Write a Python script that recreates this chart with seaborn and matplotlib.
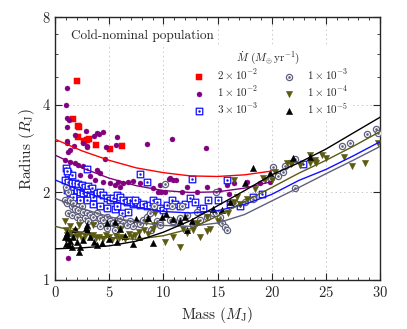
import numpy as np
import pandas as pd
import seaborn as sns
import matplotlib.pyplot as plt
from matplotlib.path import Path
from matplotlib.ticker import MultipleLocator, FixedLocator, NullFormatter

# --- data: mass (M_J), radius (R_J) per accretion rate ---
red_m = [1.7, 2.06, 2.1, 2.15, 2.2, 2.7, 3.0, 3.17, 3.8, 5.1, 6.15]
red_r = [3.57, 4.85, 3.39, 3.11, 3.37, 3.0, 3.02, 3.05, 2.92, 2.82, 2.88]

purple_m = [0.98, 1.14, 1.08, 1.26, 1.1, 1.08, 1.23, 1.38, 1.85, 2.9, 3.6, 4.03, 5.72,
            5.66, 1.1, 1.8, 2.58, 2.98, 4.68, 3.85, 4.46, 8.46, 10.77, 13.9, 4.6, 2.98,
            1.23, 0.92, 1.38, 1.85, 2.15, 2.62, 2.98, 3.85, 4.15, 3.23, 2.31, 3.69, 4.46,
            5.08, 5.54, 5.85, 6.0, 6.31, 6.77, 7.23, 7.85, 8.46, 9.08, 9.69, 10.6, 10.9,
            11.2, 9.54, 10.15, 11.7, 12.15, 13.1, 14.0, 15.1, 15.85, 16.5, 17.7, 18.9,
            19.85, 10.55, 16.1, 9.8]
purple_r = [4.0, 4.57, 3.6, 3.55, 3.35, 3.0, 2.76, 2.8, 3.16, 3.26, 3.14, 3.18, 3.11,
            2.92, 2.97, 2.9, 2.95, 2.89, 2.87, 3.2, 3.24, 2.93, 3.06, 2.84, 2.6, 2.86,
            1.19, 2.59, 2.55, 2.52, 2.49, 2.47, 2.42, 2.39, 2.33, 2.27, 2.30, 2.21, 2.18,
            2.15, 2.12, 2.18, 2.09, 2.16, 2.18, 2.19, 2.15, 2.16, 2.07, 2.12, 2.24, 2.21,
            2.20, 2.01, 2.01, 2.0, 2.09, 2.01, 2.09, 2.04, 2.12, 2.15, 2.18, 2.15,
            2.18, 2.22, 1.98, 2.0]

blue_m = [0.92, 1.23, 1.54, 1.85, 2.15, 2.46, 2.77, 3.08, 3.38, 2.0, 2.31, 2.62, 2.92,
          3.23, 3.54, 3.85, 4.15, 4.46, 4.77, 5.08, 5.38, 5.69, 6.0, 6.31, 6.62, 6.92,
          7.23, 7.54, 7.85, 8.15, 8.46, 8.77, 9.08, 9.38, 9.69, 10.0, 10.3, 10.77, 11.08,
          11.54, 12.0, 12.46, 12.92, 13.38, 13.7, 14.15, 15.08, 16.15, 17.1, 18.3, 19.1,
          22.9, 7.85, 8.46, 12.6, 15.85, 2.98, 0.98, 1.23, 1.54, 1.08, 1.08, 1.38, 1.69,
          2.31, 2.92, 3.54, 4.15, 4.77, 5.54, 6.15, 6.77, 7.38, 5.7]
blue_r = [2.21, 2.18, 2.15, 2.16, 2.14, 2.12, 2.09, 2.10, 2.07, 2.04, 2.01, 1.99, 2.0,
          1.96, 1.93, 1.99, 2.01, 1.96, 1.92, 1.88, 1.91, 1.96, 1.93, 1.88, 1.86, 1.89,
          1.83, 1.86, 1.81, 1.83, 1.79, 1.81, 1.88, 1.86, 1.77, 1.74, 1.81, 1.88, 1.83,
          1.79, 1.82, 1.91, 1.86, 1.74, 1.77, 1.89, 1.88, 1.83, 1.79, 1.93, 1.98,
          2.5, 2.32, 2.18, 2.22, 2.21, 2.40, 2.42, 2.33, 2.30, 2.38, 2.04, 1.99, 1.93,
          1.88, 1.88, 1.83, 1.79, 1.77, 1.75, 1.70, 1.72, 1.88, 1.79]

grey_m = [0.92, 1.08, 1.38, 1.54, 1.69, 1.85, 2.15, 2.46, 2.62, 2.92, 3.23, 3.54, 3.85,
          4.15, 4.46, 4.77, 5.08, 5.38, 5.69, 6.0, 6.31, 6.62, 6.92, 7.23, 7.54, 7.85,
          8.15, 8.46, 8.77, 9.08, 9.38, 9.69, 10.6, 10.9, 11.5, 12.15, 12.77, 13.4, 14.0,
          14.6, 15.2, 1.23, 1.54, 2.0, 2.31, 2.77, 3.08, 3.69, 4.15, 4.77, 5.54, 6.0,
          1.23, 0.98, 16.6, 17.5, 18.3, 19.9, 20.6, 20.15, 21.2, 21.7, 22.1, 22.1, 26.5,
          27.2, 28.8, 29.6, 29.8, 21.0, 15.4, 15.7, 15.9, 10.15, 9.1, 10.77, 11.7, 13.1,
          14.9, 8.9, 9.7, 10.9, 14.9]
grey_r = [1.88, 1.84, 1.88, 1.79, 1.84, 1.76, 1.74, 1.79, 1.72, 1.70, 1.67, 1.65, 1.70,
          1.63, 1.61, 1.65, 1.59, 1.57, 1.61, 1.63, 1.57, 1.55, 1.59, 1.53, 1.57, 1.56,
          1.61, 1.65, 1.70, 1.76, 1.59, 1.57, 1.61, 1.58, 1.63, 1.67, 1.56, 1.61, 1.65,
          1.70, 1.65, 1.70, 1.67, 1.65, 1.61, 1.63, 1.59, 1.57, 1.53, 1.51, 1.49, 1.53,
          2.01, 2.09, 1.84, 1.86, 1.90, 2.25, 2.28, 2.44, 2.47, 2.53, 2.6, 2.07, 2.89,
          2.97, 3.18, 3.3, 3.2, 2.35, 1.57, 1.52, 1.49, 2.14, 1.79, 1.80, 1.79, 1.72,
          1.70, 1.49, 1.55, 1.59, 2.01]

olive_m = [0.92, 1.0, 1.1, 1.38, 1.5, 1.7, 1.85, 2.0, 2.3, 2.5, 2.8, 3.0, 3.3, 3.5, 3.8,
           4.1, 4.4, 4.7, 5.0, 5.3, 5.6, 5.9, 6.2, 6.5, 6.8, 7.1, 7.4, 7.8, 8.2, 8.6, 9.0,
           3.5, 2.2, 6.0, 8.4, 9.1, 9.2, 10.15, 10.9, 11.54, 12.15, 12.77, 13.38, 14.0,
           14.3, 13.1, 11.8, 14.0, 15.0, 16.0, 16.5, 16.8, 17.1, 17.7, 16.5, 19.2, 19.4,
           20.3, 21.4, 21.8, 22.6, 23.5, 24.0, 23.5, 24.0, 24.1, 24.6, 25.0, 26.7, 27.4,
           28.6, 29.8, 18.5, 20.0]
olive_r = [1.59, 1.48, 1.43, 1.53, 1.45, 1.40, 1.47, 1.42, 1.44, 1.38, 1.42, 1.46, 1.40,
           1.43, 1.39, 1.41, 1.38, 1.43, 1.40, 1.37, 1.42, 1.39, 1.41, 1.38, 1.44, 1.40,
           1.43, 1.46, 1.48, 1.44, 1.50, 1.55, 1.55, 1.50, 1.58, 1.55, 1.70, 1.35, 1.41,
           1.30, 1.45, 1.49, 1.41, 1.47, 1.50, 1.57, 1.50, 1.65, 1.60, 1.70, 1.86, 1.93,
           1.83, 1.90, 2.21, 2.24, 2.20, 2.36, 2.52, 2.50, 2.49, 2.52, 2.55, 2.69, 2.59,
           2.52, 2.70, 2.63, 2.64, 2.47, 2.53, 2.97, 2.05, 2.20]

black_m = [0.95, 1.0, 1.1, 1.23, 1.29, 1.54, 1.7, 1.85, 2.0, 2.2, 2.3, 2.6, 2.92, 3.0,
           3.2, 3.6, 3.85, 4.3, 4.77, 5.0, 5.7, 6.0, 6.5, 7.2, 7.8, 9.0, 2.9, 1.4,
           9.85, 10.2, 10.9, 12.0, 12.6, 15.4, 16.15, 8.6, 7.5, 5.5, 11.5, 12.2, 14.6,
           17.5, 18.25, 19.85, 22.0, 23.5]
black_r = [1.40, 1.33, 1.45, 1.39, 1.32, 1.30, 1.41, 1.50, 1.35, 1.25, 1.30, 1.37, 1.54,
           1.49, 1.40, 1.35, 1.32, 1.34, 1.57, 1.38, 1.35, 1.50, 1.42, 1.33, 1.40, 1.34,
           1.51, 1.36, 1.65, 1.68, 1.62, 1.65, 1.60, 1.74, 1.86, 1.63, 1.62, 1.58, 1.59,
           1.49, 1.76, 2.15, 2.42, 2.33, 2.62, 2.65]

# fitted curves
fit_m = [0, 2.5, 5, 7.5, 10, 12.5, 15, 17.5, 20, 22.5, 25, 27.5, 30]
red_fit = [3.05, 2.78, 2.58, 2.43, 2.34, 2.28, 2.27, 2.30, 2.37]
purple_fit = [2.69, 2.43, 2.24, 2.11, 2.03, 2.0, 2.01, 2.07, 2.18]
blue_fit = [2.21, 2.02, 1.88, 1.78, 1.72, 1.70, 1.73, 1.82, 1.97, 2.20, 2.40, 2.67, 2.99]
grey_fit = [1.91, 1.76, 1.65, 1.58, 1.54, 1.53, 1.57, 1.68, 1.87, 2.08, 2.32, 2.58, 2.88]
olive_fit = [1.53, 1.45, 1.40, 1.38, 1.42, 1.50, 1.66, 1.86, 2.08, 2.33, 2.58, 2.88, 3.24]
black_fit = [1.28, 1.29, 1.31, 1.36, 1.46, 1.60, 1.80, 2.03, 2.30, 2.53, 2.82, 3.20, 3.63]

labels = [r"$2\times10^{-2}$", r"$1\times10^{-2}$", r"$3\times10^{-3}$",
          r"$1\times10^{-3}$", r"$1\times10^{-4}$", r"$1\times10^{-5}$"]

sns.set_style("ticks")
plt.rcParams["font.family"] = "serif"
plt.rcParams["font.serif"] = ["cmr10", "DejaVu Serif"]
plt.rcParams["mathtext.fontset"] = "cm"
plt.rcParams["axes.formatter.use_mathtext"] = True

# open markers with a centre dot
sq = Path([(-1, -1), (1, -1), (1, 1), (-1, 1), (-1, -1)],
          [Path.MOVETO, Path.LINETO, Path.LINETO, Path.LINETO, Path.CLOSEPOLY])
dot_sq = Path.make_compound_path(sq, Path.circle((0, 0), 0.18))
dot_circ = Path.make_compound_path(Path.unit_circle(), Path.circle((0, 0), 0.22))

fig, ax = plt.subplots(figsize=(4.07, 3.29), dpi=100)
fig.subplots_adjust(left=0.135, right=0.934, bottom=0.149, top=0.947)

c_red, c_pur, c_blue = "#ff0000", "#800080", "#1010ff"
c_grey, c_olive, c_black = "#60607e", "#5a5a12", "#000000"

series = [
    (red_m, red_r, dict(marker="s", s=20, color=c_red, edgecolor=c_red)),
    (purple_m, purple_r, dict(marker="o", s=13, color=c_pur, edgecolor=c_pur)),
    (blue_m, blue_r, dict(marker=dot_sq, s=22, facecolor="white", edgecolor=c_blue, linewidth=0.9)),
    (grey_m, grey_r, dict(marker=dot_circ, s=20, facecolor="white", edgecolor=c_grey, linewidth=0.9)),
    (olive_m, olive_r, dict(marker="v", s=20, color=c_olive, edgecolor=c_olive)),
    (black_m, black_r, dict(marker="^", s=20, color=c_black, edgecolor=c_black)),
]
for (m, r, kw), lab in zip(series, labels):
    sns.scatterplot(x=m, y=r, ax=ax, label=lab, zorder=3, **kw)

for fit, c in zip([red_fit, purple_fit, blue_fit, grey_fit, olive_fit, black_fit],
                  [c_red, c_pur, c_blue, c_grey, c_olive, c_black]):
    ax.plot(fit_m[:len(fit)], fit, color=c, lw=1.0, zorder=4)

ax.set_yscale("log")
ax.set_xlim(0, 30)
ax.set_ylim(1, 8)
ax.yaxis.set_major_locator(FixedLocator([1, 2, 4, 8]))
ax.yaxis.set_minor_locator(FixedLocator([3, 5, 6, 7]))
ax.set_yticklabels(["1", "2", "4", "8"])
ax.yaxis.set_minor_formatter(NullFormatter())
ax.xaxis.set_major_locator(MultipleLocator(5))
ax.xaxis.set_minor_locator(MultipleLocator(1))
ax.tick_params(which="both", direction="in", top=True, right=True, labelsize=10.5)
ax.tick_params(which="major", length=5, width=0.8)
ax.tick_params(which="minor", length=2.5, width=0.6)
ax.grid(True, which="major", ls=(0, (1.5, 3)), color="#c8c8c8", lw=0.7)
for sp in ax.spines.values():
    sp.set_linewidth(1.0)

ax.set_xlabel(r"Mass ($M_{\rm J}$)", fontsize=11, labelpad=4)
ax.set_ylabel(r"Radius ($R_{\rm J}$)", fontsize=11, labelpad=4)
ax.text(0.05, 0.93, "Cold-nominal population", transform=ax.transAxes, fontsize=9.5,
        va="center", ha="left", zorder=5,
        bbox=dict(facecolor="white", edgecolor="none", pad=1))

leg = ax.legend(ncol=2, loc="upper right", bbox_to_anchor=(0.93, 0.915), fontsize=8,
                title=r"$\dot{M}\ (M_{\oplus}\,\mathrm{yr}^{-1})$", title_fontsize=8,
                frameon=True, fancybox=False, framealpha=1, edgecolor="white",
                handletextpad=0.6, columnspacing=1.8, labelspacing=0.2, borderpad=0.3)
leg.get_frame().set_linewidth(0)

fig.savefig("out.png", dpi=100)
